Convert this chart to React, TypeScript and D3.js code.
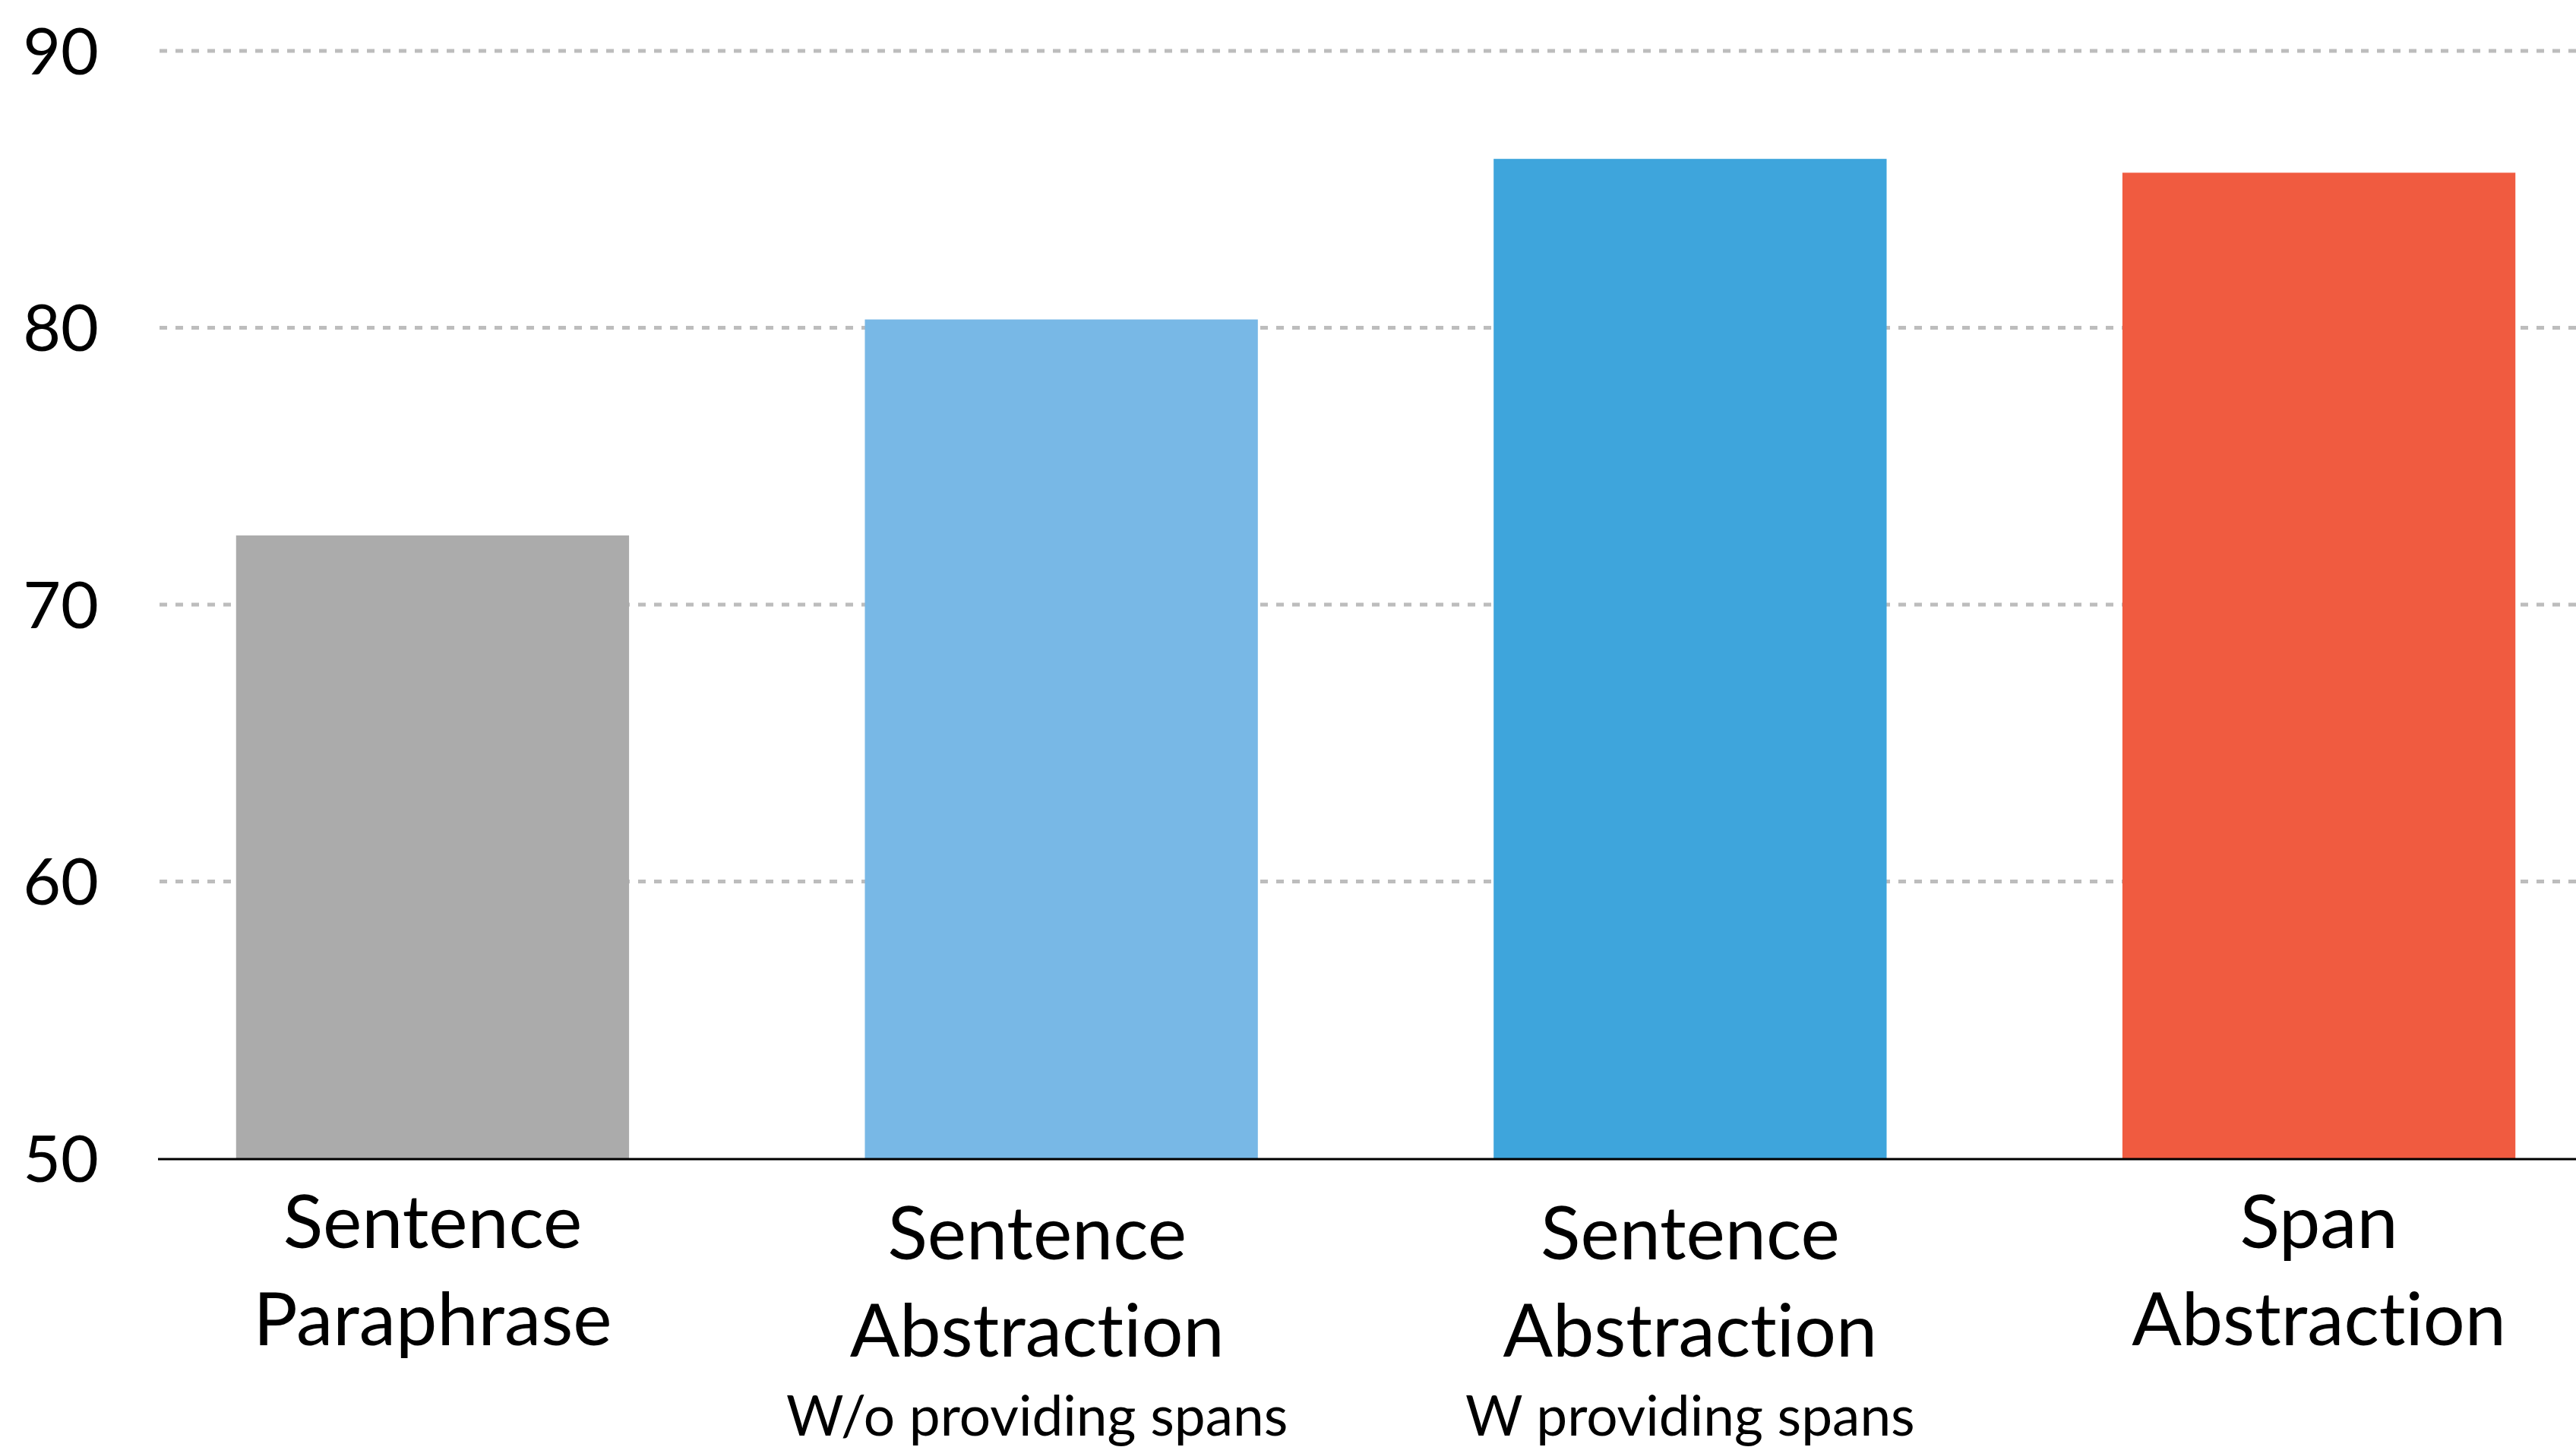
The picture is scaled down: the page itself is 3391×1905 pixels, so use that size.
import React, { useEffect, useRef } from "react";
import * as d3 from "d3";

const categories = ["sp", "sa_wo", "sa_w", "span"];
const values = [72.5, 80.3, 86.1, 85.6];
const colors = ["#ababab", "#78b8e6", "#3ea5dc", "#f05b40"];
const mainLabels = [
  ["Sentence", "Paraphrase"],
  ["Sentence", "Abstraction"],
  ["Sentence", "Abstraction"],
  ["Span", "Abstraction"],
];
const subLabels = ["", "W/o providing spans", "W providing spans", ""];
const yTicks = [50, 60, 70, 80, 90];

const W = 3391;
const H = 1905;
const labelShift = [0, -32, 0, 0];

export default function App() {
  const ref = useRef<SVGSVGElement | null>(null);

  useEffect(() => {
    const svg = d3.select(ref.current);
    svg.selectAll("*").remove();

    const font = "Lato, 'Open Sans', sans-serif";
    const y = d3.scaleLinear().domain([50, 90]).range([1525, 67]);
    const x = d3
      .scaleBand<string>()
      .domain(categories)
      .range([228, 3394])
      .paddingInner(0.375)
      .paddingOuter(0.1);

    svg
      .append("g")
      .selectAll("line")
      .data(yTicks.filter((t) => t > 50))
      .join("line")
      .attr("x1", 210)
      .attr("x2", W)
      .attr("y1", (d) => y(d))
      .attr("y2", (d) => y(d))
      .attr("stroke", "#bdbdbd")
      .attr("stroke-width", 5)
      .attr("stroke-dasharray", "10 11");

    svg
      .append("g")
      .selectAll("rect")
      .data(values)
      .join("rect")
      .attr("x", (_, i) => x(categories[i])!)
      .attr("width", x.bandwidth())
      .attr("y", (d) => y(d))
      .attr("height", (d) => y(50) - y(d))
      .attr("fill", (_, i) => colors[i]);

    svg
      .append("line")
      .attr("x1", 208)
      .attr("x2", W)
      .attr("y1", y(50) + 1)
      .attr("y2", y(50) + 1)
      .attr("stroke", "#000")
      .attr("stroke-width", 3);

    const yAxis = d3
      .axisLeft(y)
      .tickValues(yTicks)
      .tickSize(0)
      .tickPadding(0)
      .tickFormat((d) => String(d));
    const gy = svg.append("g").attr("transform", "translate(130,0)").call(yAxis);
    gy.select(".domain").remove();
    gy.selectAll("text")
      .attr("font-family", font)
      .attr("font-weight", 400)
      .attr("font-size", 86)
      .attr("fill", "#000")
      .attr("dy", "0.35em");

    const g = svg
      .append("g")
      .attr("font-family", font)
      .attr("font-weight", 400)
      .attr("fill", "#000")
      .attr("text-anchor", "middle")
      .style("font-variant-ligatures", "none");
    categories.forEach((c, i) => {
      const cx = x(c)! + x.bandwidth() / 2 + labelShift[i];
      const hasSub = subLabels[i] !== "";
      const base = hasSub ? 1658 : 1643;
      mainLabels[i].forEach((line, j) => {
        g.append("text")
          .attr("x", cx)
          .attr("y", base + j * 128)
          .attr("font-size", 97)
          .text(line);
      });
      if (hasSub) {
        g.append("text")
          .attr("x", cx)
          .attr("y", 1890)
          .attr("font-size", 73)
          .text(subLabels[i]);
      }
    });
  }, []);

  return (
    <svg
      ref={ref}
      width={W}
      height={H}
      style={{ position: "absolute", left: 0, top: 0, background: "#fff" }}
    />
  );
}
